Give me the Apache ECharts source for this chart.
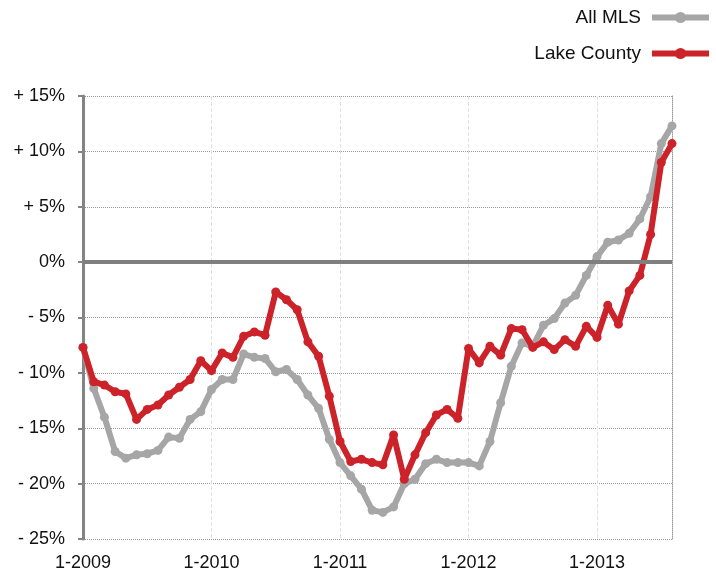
<!DOCTYPE html>
<html>
<head>
<meta charset="utf-8">
<script src="https://cdn.jsdelivr.net/npm/echarts@6/dist/echarts.min.js"></script>
<style>
html,body{margin:0;padding:0;background:#fff;}
#c{width:716px;height:572px;}
</style>
</head>
<body>
<div id="c"></div>
<script>
// Categories: monthly, 1-2009 .. 8-2013
const categories = [];
for (let y = 2009; y <= 2013; y++) {
  for (let m = 1; m <= 12; m++) {
    if (categories.length < 56) categories.push(m + '-' + y);
  }
}
const yTicks = [-25, -20, -15, -10, -5, 0, 5, 10, 15];
const yTickLabels = ['- 25%', '- 20%', '- 15%', '- 10%', '- 5%', '0%', '+ 5%', '+ 10%', '+ 15%'];

const allMLS = [-7.7, -11.4, -14.0, -17.1, -17.7, -17.4, -17.3, -17.0, -15.8, -15.9, -14.2, -13.5,
  -11.5, -10.6, -10.6, -8.3, -8.6, -8.7, -9.9, -9.7, -10.6, -12.0, -13.2, -16.0,
  -18.1, -19.3, -20.5, -22.4, -22.6, -22.1, -20.0, -19.6, -18.2, -17.8, -18.1, -18.1,
  -18.1, -18.4, -16.2, -12.7, -9.4, -7.3, -7.6, -5.7, -5.1, -3.7, -3.0, -1.2,
  0.5, 1.8, 2.0, 2.6, 3.9, 5.9, 10.7, 12.3];

const lakeCounty = [-7.7, -10.8, -11.1, -11.7, -11.9, -14.2, -13.3, -12.9, -12.0, -11.3, -10.6, -8.9,
  -9.8, -8.2, -8.6, -6.7, -6.3, -6.6, -2.7, -3.4, -4.3, -7.2, -8.5, -12.1,
  -16.2, -18.0, -17.8, -18.1, -18.3, -15.6, -19.6, -17.4, -15.4, -13.8, -13.3, -14.1,
  -7.8, -9.1, -7.6, -8.4, -6.0, -6.1, -7.7, -7.2, -7.9, -7.0, -7.6, -5.8,
  -6.8, -3.9, -5.6, -2.6, -1.2, 2.5, 9.0, 10.7];

const GRAY = '#a6a6a6';
const RED = '#cc2229';
const FONT = 'Liberation Sans, Arial, sans-serif';

const chart = echarts.init(document.getElementById('c'));
chart.setOption({
  animation: false,
  textStyle: { fontFamily: FONT },
  legend: {
    data: ['All MLS', 'Lake County'],
    orient: 'vertical',
    align: 'right',
    right: 4,
    top: 8,
    itemWidth: 57,
    itemHeight: 14,
    itemGap: 17,
    padding: 0,
    lineStyle: { width: 6 },
    textStyle: { fontSize: 19, color: '#111', fontFamily: FONT, padding: [0, 6, 0, 0] }
  },
  grid: { left: 83, right: 44, top: 96, bottom: 32, containLabel: false },
  xAxis: {
    type: 'category',
    data: categories,
    boundaryGap: false,
    axisLine: { show: false },
    axisTick: { show: false },
    axisLabel: {
      interval: (i) => i % 12 === 0,
      fontSize: 18, color: '#111', margin: 15, fontFamily: FONT
    },
    splitLine: {
      show: true,
      interval: (i) => i % 12 === 0 && i > 0,
      lineStyle: { color: '#e2e2e2', type: 'dashed', width: 1 }
    }
  },
  yAxis: [{
    type: 'value',
    min: -25, max: 15, interval: 5,
    axisLine: { show: true, lineStyle: { color: '#848484', width: 3 } },
    axisTick: { show: true, length: 5, lineStyle: { color: '#848484', width: 2 } },
    axisLabel: {
      fontSize: 18, color: '#111', margin: 18, fontFamily: FONT,
      formatter: (v) => { const i = yTicks.indexOf(v); return i >= 0 ? yTickLabels[i] : ''; }
    },
    splitLine: { show: true, lineStyle: { color: '#9a9a9a', type: 'dotted', width: 1 } }
  }, {
    type: 'value',
    position: 'right',
    min: -25, max: 15, interval: 5,
    axisLine: { show: true, lineStyle: { color: '#9a9a9a', type: 'dotted', width: 1 } },
    axisTick: { show: false },
    axisLabel: { show: false },
    splitLine: { show: false }
  }],
  series: [
    {
      name: 'zero',
      type: 'line',
      data: [],
      z: 1,
      silent: true,
      markLine: {
        silent: true,
        symbol: 'none',
        label: { show: false },
        lineStyle: { color: '#7f7f7f', type: 'solid', width: 4 },
        data: [{ yAxis: 0 }]
      }
    },
    {
      name: 'All MLS',
      type: 'line',
      data: allMLS,
      z: 3,
      symbol: 'circle',
      symbolSize: 9,
      showSymbol: true,
      showAllSymbol: true,
      lineStyle: { color: GRAY, width: 6 },
      itemStyle: { color: GRAY }
    },
    {
      name: 'Lake County',
      type: 'line',
      data: lakeCounty,
      z: 4,
      symbol: 'circle',
      symbolSize: 9,
      showSymbol: true,
      showAllSymbol: true,
      lineStyle: { color: RED, width: 6 },
      itemStyle: { color: RED }
    }
  ]
});
</script>
</body>
</html>
